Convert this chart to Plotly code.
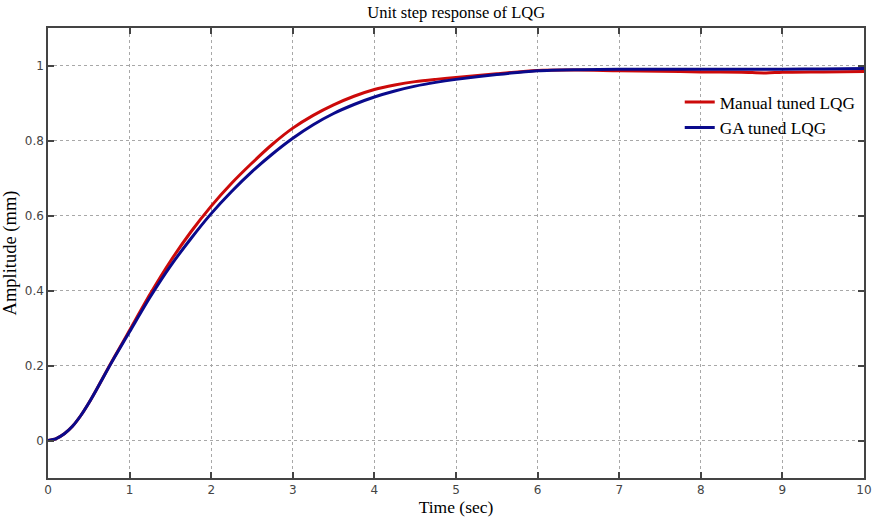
import plotly.graph_objects as go

# Step response samples (time in seconds, amplitude in mm)
time_s = [0, 0.1, 0.2, 0.3, 0.4, 0.5, 0.6, 0.75, 0.875, 1.0, 1.25, 1.5, 1.75, 2.0, 2.25, 2.5, 2.75,
          3.0, 3.25, 3.5, 3.75, 4.0, 4.25, 4.5, 4.75, 5.0, 5.5, 6.0, 6.5, 7.0, 7.5, 8.0, 8.5, 8.8,
          9.0, 9.5, 10.0]
manual_lqg = [0, 0.005, 0.018, 0.038, 0.066, 0.1, 0.138, 0.198, 0.246, 0.294, 0.39, 0.478, 0.556,
              0.625, 0.686, 0.74, 0.79, 0.833, 0.867, 0.895, 0.918, 0.936, 0.948, 0.957, 0.963,
              0.968, 0.978, 0.987, 0.988, 0.986, 0.985, 0.983, 0.982, 0.980, 0.982, 0.983, 0.984]
ga_lqg = [0, 0.005, 0.018, 0.038, 0.066, 0.1, 0.138, 0.197, 0.244, 0.29, 0.382, 0.465, 0.538,
          0.605, 0.664, 0.717, 0.764, 0.806, 0.842, 0.872, 0.896, 0.916, 0.932, 0.945, 0.955,
          0.963, 0.976, 0.986, 0.989, 0.99, 0.99, 0.99, 0.99, 0.99, 0.99, 0.991, 0.992]

x_ticks = list(range(0, 11))
y_ticks = [0, 0.2, 0.4, 0.6, 0.8, 1]
y_tick_text = ["0", "0.2", "0.4", "0.6", "0.8", "1"]

fig = go.Figure()
fig.add_trace(go.Scatter(x=time_s, y=manual_lqg, mode="lines", name="Manual tuned LQG",
                         line=dict(color="#cc0a0a", width=3, shape="spline", smoothing=0.8)))
fig.add_trace(go.Scatter(x=time_s, y=ga_lqg, mode="lines", name="GA tuned LQG",
                         line=dict(color="#0a0a8c", width=3, shape="spline", smoothing=0.8)))

axis_common = dict(
    showline=True, linecolor="#444", linewidth=1.5, mirror="ticks",
    ticks="inside", ticklen=6, tickcolor="#444", tickwidth=1.5,
    showgrid=True, gridcolor="#a8a8a8", griddash="dot", gridwidth=1,
    zeroline=False, automargin=False,
    tickfont=dict(family="DejaVu Sans", size=12, color="#444"),
)

fig.update_xaxes(range=[0, 10], tickvals=x_ticks, **axis_common,
                 title=dict(text="Time (sec)", standoff=6,
                            font=dict(family="Liberation Serif", size=17.5, color="black")))
fig.update_yaxes(range=[-0.1, 1.1], tickvals=y_ticks, ticktext=y_tick_text, **axis_common,
                 title=dict(text="Amplitude (mm)", standoff=4,
                            font=dict(family="Liberation Serif", size=18.5, color="black")))

fig.update_layout(
    width=874, height=517,
    margin=dict(l=48, r=10, t=28, b=39),
    paper_bgcolor="white", plot_bgcolor="white",
    title=dict(text="Unit step response of LQG", x=0.522, xanchor="center", y=0.988, yanchor="top",
               font=dict(family="Liberation Serif", size=16.5, color="black")),
    legend=dict(x=0.996, xanchor="right", y=0.875, yanchor="top",
                bgcolor="rgba(255,255,255,0)", borderwidth=0, tracegroupgap=0,
                font=dict(family="Liberation Serif", size=17.3, color="black")),
    showlegend=True,
)

fig.write_html("out.html")
